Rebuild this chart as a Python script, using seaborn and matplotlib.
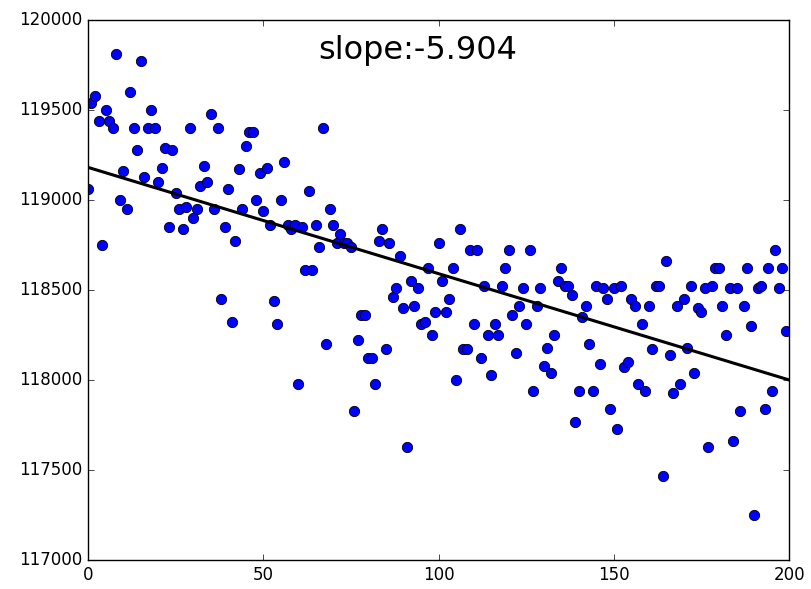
#! /usr/bin/env python3

import numpy as np
import pandas as pd
import seaborn as sns
import matplotlib
matplotlib.use('Agg')
import matplotlib.pyplot as plt

# values, one per index 0..199
y_part1 = [119060, 119540, 119580, 119440, 118750, 119500, 119440, 119400, 119810, 119000,
           119160, 118950, 119600, 119400, 119280, 119770, 119130, 119400, 119500, 119400,
           119100, 119180, 119290, 118850, 119280, 119040, 118950, 118840, 118960, 119400,
           118900, 118950, 119080, 119190, 119100, 119480, 118950, 119400, 118450, 118850,
           119060, 118320, 118770, 119170, 118950, 119300, 119380, 119380, 119000, 119150]
y_part2 = [118940, 119180, 118860, 118440, 118310, 119000, 119210, 118860, 118840, 118860,
           117980, 118850, 118610, 119050, 118610, 118860, 118740, 119400, 118200, 118950,
           118860, 118760, 118810, 118760, 118760, 118740, 117830, 118220, 118360, 118360,
           118120, 118120, 117980, 118770, 118840, 118170, 118760, 118460, 118510, 118690,
           118400, 117630, 118550, 118410, 118510, 118310, 118320, 118620, 118250, 118380]
y_part3 = [118760, 118550, 118380, 118450, 118620, 118000, 118840, 118170, 118170, 118720,
           118310, 118720, 118120, 118520, 118250, 118030, 118310, 118250, 118520, 118620,
           118720, 118360, 118150, 118410, 118510, 118310, 118720, 117940, 118410, 118510,
           118080, 118180, 118040, 118250, 118550, 118620, 118520, 118520, 118470, 117770,
           117940, 118350, 118410, 118200, 117940, 118520, 118090, 118510, 118450, 117840]
y_part4 = [118510, 117730, 118520, 118070, 118100, 118450, 118410, 117980, 118310, 117940,
           118410, 118170, 118520, 118520, 117470, 118660, 118140, 117930, 118410, 117980,
           118450, 118180, 118520, 118040, 118400, 118380, 118510, 117630, 118520, 118620,
           118620, 118410, 118250, 118510, 117660, 118510, 117830, 118410, 118620, 118300,
           117250, 118510, 118520, 117840, 118620, 117940, 118720, 118510, 118620, 118270]
slope_label = 'slope:-5.904'

values = y_part1 + y_part2 + y_part3 + y_part4
df = pd.DataFrame({'idx': np.arange(len(values)), 'val': values})

plt.style.use('classic')
plt.rcParams['figure.facecolor'] = 'white'
plt.rcParams['savefig.facecolor'] = 'white'

fig = plt.figure(figsize=(8.11, 5.89), dpi=100)
ax = fig.add_axes([0.1085, 0.049, 0.8645, 0.917])

sns.scatterplot(data=df, x='idx', y='val', ax=ax, color='blue',
                edgecolor='black', linewidth=0.6, s=55, zorder=2)

xlim = (0, 200)
coef = np.polyfit(df['idx'], df['val'], 1)
line_x = np.array(xlim)
sns.lineplot(x=line_x, y=np.polyval(coef, line_x), ax=ax,
             color='black', linewidth=2.2, zorder=3)

ax.set_xlim(*xlim)
ax.set_ylim(117000, 120000)
ax.set_xticks([0, 50, 100, 150, 200])
ax.set_yticks(np.arange(117000, 120001, 500))
ax.ticklabel_format(useOffset=False, style='plain')
ax.set(xlabel='', ylabel='')
ax.text(0.47, 0.944, slope_label, transform=ax.transAxes,
        ha='center', va='center', fontsize=23)

plt.savefig('out.png', dpi=100)
